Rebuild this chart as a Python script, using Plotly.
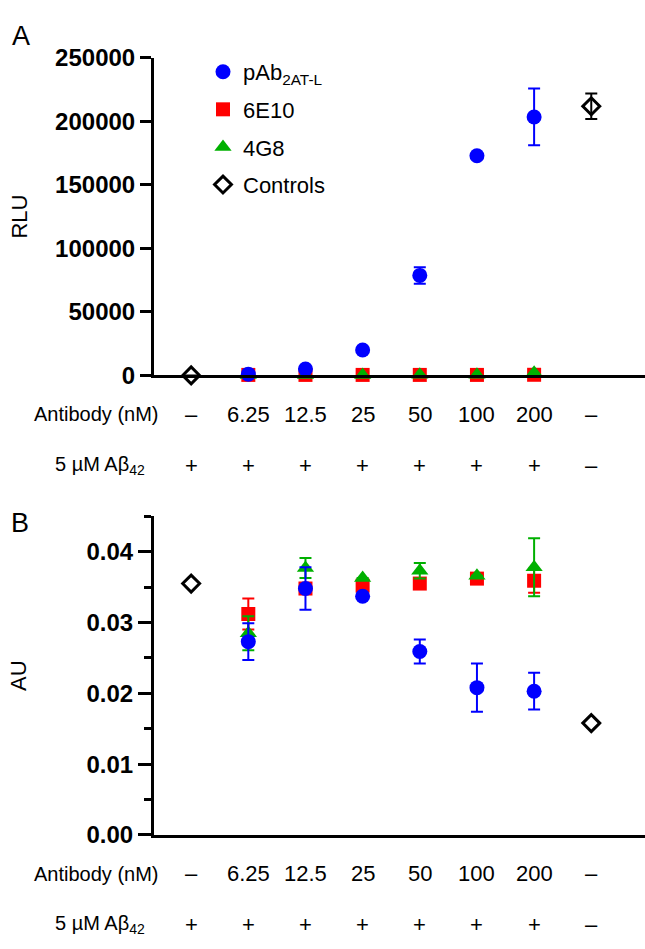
import plotly.graph_objects as go

# ---------------- data ----------------
positions = [0, 1, 2, 3, 4, 5, 6, 7]
antibody_labels = ["–", "6.25", "12.5", "25", "50", "100", "200", "–"]
abeta_labels = ["+", "+", "+", "+", "+", "+", "+", "–"]
conc_x = [1, 2, 3, 4, 5, 6]
ctrl_x = [0, 7]

# Panel A (RLU)
a_pab = [1000, 5000, 20000, 78700, 172800, 203400]
a_pab_err = [0, 0, 0, 6500, 0, 22300]
a_6e10 = [400, 400, 400, 400, 400, 500]
a_4g8 = [300, 300, 400, 500, 600, 2000]
a_ctrl = [0, 211800]
a_ctrl_err = [0, 10100]

# Panel B (AU)
b_pab = [0.0273, 0.0348, 0.0337, 0.0259, 0.0208, 0.0203]
b_pab_err = [0.0026, 0.0030, 0.0, 0.0017, 0.0034, 0.0026]
b_6e10 = [0.0312, 0.0348, 0.0352, 0.0355, 0.0362, 0.0359]
b_6e10_err = [0.0022, 0.0, 0.0, 0.0007, 0.0, 0.0017]
b_4g8 = [0.0285, 0.0377, 0.0363, 0.0373, 0.0366, 0.0378]
b_4g8_err = [0.0024, 0.0014, 0.0, 0.0011, 0.0, 0.0041]
b_ctrl = [0.0355, 0.0158]

BLUE = "rgb(0,0,255)"
RED = "rgb(255,0,0)"
GREEN = "rgb(0,176,0)"
FONT = "Liberation Sans, Arial, sans-serif"

W, H = 645, 949
fig = go.Figure()


def err(vals, color):
    return dict(type="data", array=vals, visible=True, color=color,
                thickness=2, width=6)


def add_panel(xa, ya, pab, pab_e, e10, e10_e, g8, g8_e, ctrl, ctrl_e, show):
    fig.add_trace(go.Scatter(x=conc_x, y=e10, mode="markers", name="6E10",
                             legendrank=2, legendgroup="e10", showlegend=show,
                             cliponaxis=False, xaxis=xa, yaxis=ya,
                             marker=dict(symbol="square", size=14, color=RED),
                             error_y=err(e10_e, RED) if e10_e else None))
    fig.add_trace(go.Scatter(x=conc_x, y=g8, mode="markers", name="4G8",
                             legendrank=3, legendgroup="g8", showlegend=show,
                             cliponaxis=False, xaxis=xa, yaxis=ya,
                             marker=dict(symbol="triangle-up", size=15, color=GREEN),
                             error_y=err(g8_e, GREEN) if g8_e else None))
    fig.add_trace(go.Scatter(x=conc_x, y=pab, mode="markers",
                             name="pAb<sub>2AT-L</sub>",
                             legendrank=1, legendgroup="pab", showlegend=show,
                             cliponaxis=False, xaxis=xa, yaxis=ya,
                             marker=dict(symbol="circle", size=15, color=BLUE),
                             error_y=err(pab_e, BLUE)))
    fig.add_trace(go.Scatter(x=ctrl_x, y=ctrl, mode="markers", name="Controls",
                             legendrank=4, legendgroup="ctrl", showlegend=show,
                             cliponaxis=False, xaxis=xa, yaxis=ya,
                             marker=dict(symbol="diamond-open", size=13,
                                         color="black", line=dict(width=3, color="black")),
                             error_y=err(ctrl_e, "black") if ctrl_e else None))


add_panel("x", "y", a_pab, a_pab_err, a_6e10, None, a_4g8, None, a_ctrl, a_ctrl_err, True)
add_panel("x2", "y2", b_pab, b_pab_err, b_6e10, b_6e10_err, b_4g8, b_4g8_err, b_ctrl, None, False)

x_left = 154 / W
xaxis_common = dict(range=[-0.65, 7.94], showline=True, linewidth=3, linecolor="black",
                    showgrid=False, zeroline=False, showticklabels=False, ticks="",
                    fixedrange=True)

fig.update_layout(
    width=W, height=H,
    margin=dict(l=0, r=0, t=0, b=0),
    paper_bgcolor="white", plot_bgcolor="white",
    font=dict(family=FONT, color="black", size=20),
    xaxis=dict(domain=[x_left, 1.0], anchor="y", **xaxis_common),
    xaxis2=dict(domain=[x_left, 1.0], anchor="y2", **xaxis_common),
    yaxis=dict(domain=[1 - 372 / H, 1 - 45 / H], anchor="x", range=[0, 250000],
               tickvals=[0, 50000, 100000, 150000, 200000, 250000],
               ticktext=["0", "50000", "100000", "150000", "200000", "250000"],
               ticks="outside", ticklen=11, tickwidth=3, tickcolor="black",
               showline=True, linewidth=3, linecolor="black",
               showgrid=False, zeroline=False,
               tickfont=dict(family=FONT, size=24, weight="bold", color="black"),
               title=dict(text="RLU", font=dict(family=FONT, size=22), standoff=22)),
    yaxis2=dict(domain=[1 - 845 / H, 1 - 517 / H], anchor="x2", range=[0, 0.045],
                tickvals=[0, 0.01, 0.02, 0.03, 0.04],
                ticktext=["0.00", "0.01", "0.02", "0.03", "0.04"],
                ticks="outside", ticklen=13, tickwidth=3, tickcolor="black",
                minor=dict(dtick=0.005, tick0=0, ticks="outside", ticklen=7,
                           tickwidth=3, tickcolor="black"),
                showline=True, linewidth=3, linecolor="black",
                showgrid=False, zeroline=False,
                tickfont=dict(family=FONT, size=24, weight="bold", color="black"),
                title=dict(text="AU", font=dict(family=FONT, size=22), standoff=54)),
    showlegend=True,
    legend=dict(x=203 / W, y=1 - 38 / H, xanchor="left", yanchor="top",
                font=dict(family=FONT, size=22), bgcolor="rgba(0,0,0,0)",
                traceorder="grouped", tracegroupgap=6, itemwidth=30),
)

# category label rows
annotations = []
rows = [(412, 465), (885, 937)]
for (ya, yb), xref in zip(rows, ["x", "x2"]):
    for p, lab in zip(positions, antibody_labels):
        annotations.append(dict(x=p, y=1 - ya / H, xref=xref, yref="paper", text=lab,
                                xanchor="center", yanchor="middle",
                                showarrow=False, font=dict(family=FONT, size=22)))
    for p, lab in zip(positions, abeta_labels):
        annotations.append(dict(x=p, y=1 - yb / H, xref=xref, yref="paper", text=lab,
                                xanchor="center", yanchor="middle",
                                showarrow=False, font=dict(family=FONT, size=22)))
    annotations.append(dict(x=96 / W, y=1 - ya / H, xref="paper", yref="paper",
                            text="Antibody (nM)", showarrow=False,
                            xanchor="center", yanchor="middle",
                            font=dict(family=FONT, size=20)))
    annotations.append(dict(x=100 / W, y=1 - yb / H, xref="paper", yref="paper",
                            text="5 µM Aβ<sub>42</sub>", showarrow=False,
                            xanchor="center", yanchor="middle",
                            font=dict(family=FONT, size=20)))

annotations.append(dict(x=21 / W, y=1 - 23 / H, xref="paper", yref="paper", text="A",
                        xanchor="center", yanchor="middle",
                        showarrow=False, font=dict(family=FONT, size=27)))
annotations.append(dict(x=20 / W, y=1 - 524 / H, xref="paper", yref="paper", text="B",
                        xanchor="center", yanchor="middle",
                        showarrow=False, font=dict(family=FONT, size=27)))
fig.update_layout(annotations=annotations)

fig.write_html("out.html", config={"displayModeBar": False},
               post_script="document.body.style.margin='0px';")
